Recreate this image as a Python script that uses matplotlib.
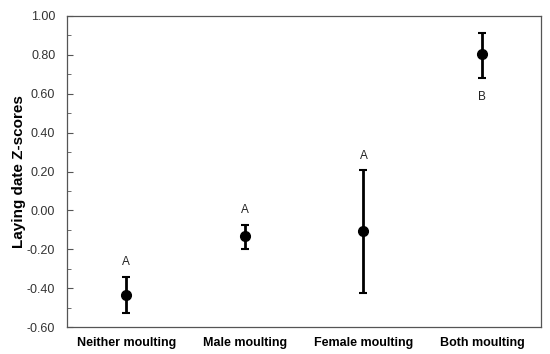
import numpy as np
import matplotlib.pyplot as plt

plt.rcParams['font.family'] = ['Liberation Sans', 'DejaVu Sans']

groups = ["Neither moulting", "Male moulting", "Female moulting", "Both moulting"]
means = [-0.435, -0.132, -0.106, 0.805]
upper = [-0.341, -0.073, 0.208, 0.913]
lower = [-0.529, -0.200, -0.427, 0.683]
letters = ["A", "A", "A", "B"]

x = np.arange(len(groups))
means = np.array(means)
yerr = [means - np.array(lower), np.array(upper) - means]

fig, ax = plt.subplots(figsize=(5.5, 3.54), dpi=100)
fig.subplots_adjust(left=0.122, right=0.984, top=0.955, bottom=0.076)

ax.errorbar(x, means, yerr=yerr, fmt='o', color='black', ms=7,
            elinewidth=2, capsize=3, capthick=1.5)

for i, lab in enumerate(letters):
    if lab == "B":
        ax.annotate(lab, (x[i], lower[i]), xytext=(0, -10), textcoords='offset points',
                    ha='center', va='top', fontsize=8.5, color='#222222')
    else:
        ax.annotate(lab, (x[i], upper[i]), xytext=(0, 6), textcoords='offset points',
                    ha='center', va='bottom', fontsize=8.5, color='#222222')

ax.set_xlim(-0.5, 3.5)
ax.set_ylim(-0.6, 1.0)
ax.set_yticks(np.arange(-0.6, 1.01, 0.2))
ax.set_yticks(np.arange(-0.5, 1.0, 0.2), minor=True)
ax.set_yticklabels([f"{v:.2f}" for v in np.arange(-0.6, 1.01, 0.2)])
ax.tick_params(axis='y', which='major', direction='in', length=4, labelsize=9,
               color='#555555', labelcolor='#333333', pad=8.5)
ax.tick_params(axis='y', which='minor', direction='in', length=3, color='#555555')
ax.set_xticks(x)
ax.set_xticklabels(groups, fontsize=9, fontweight='bold')
ax.tick_params(axis='x', length=0, pad=7)
for s in ax.spines.values():
    s.set_color('#555555')
    s.set_linewidth(0.9)

ax.set_ylabel("Laying date Z-scores", fontsize=11, fontweight='bold', labelpad=1)

fig.savefig("out.png")
